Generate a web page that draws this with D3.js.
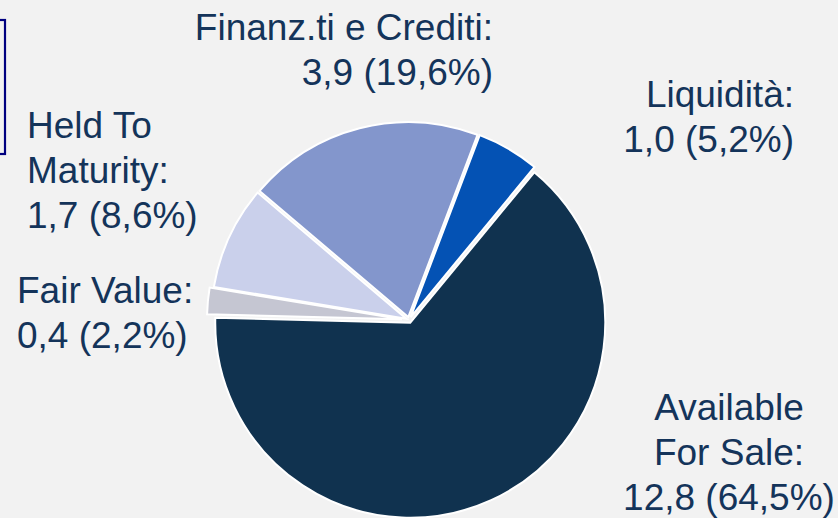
<!DOCTYPE html>
<html><head><meta charset="utf-8">
<script src="https://cdn.jsdelivr.net/npm/d3@7"></script>
<style>html,body{margin:0;padding:0;background:#f2f2f2;overflow:hidden}</style>
</head><body>
<svg id="c" width="838" height="518"></svg>
<script>
const categories = ["Available For Sale", "Fair Value", "Held To Maturity", "Finanz.ti e Crediti", "Liquidità"];
const values = [12.8, 0.4, 1.7, 3.9, 1.0];
const percents = [64.5, 2.2, 8.6, 19.6, 5.2];
const labelLines = [
  ["Available", "For Sale:"],
  ["Fair Value:"],
  ["Held To", "Maturity:"],
  ["Finanz.ti e Crediti:"],
  ["Liquidità:"]
];
const colors = ["#10324f", "#c5c6d2", "#cad0eb", "#8396cc", "#0452b4"];

const svg = d3.select("#c");
svg.append("rect").attr("width", 838).attr("height", 518).attr("fill", "#f2f2f2");
// partial box at left
svg.append("rect").attr("x", -10).attr("y", 20).attr("width", 15).attr("height", 134)
  .attr("fill", "none").attr("stroke", "#000080").attr("stroke-width", 2.2);

const cx = 409, cy = 320, r = 195;
const fmt = v => d3.format(".1f")(v).replace(".", ",");
const startA = 39.5 * Math.PI / 180;
const pie = d3.pie().sort(null).value((d, i) => percents[i])
  .startAngle(startA).endAngle(startA + 2 * Math.PI);
const arcs = pie(values);
const arc = d3.arc().innerRadius(0).outerRadius(r);
const explode = [3, 7, 3, 3, 3];
const g = svg.append("g").attr("transform", `translate(${cx},${cy})`);
g.selectAll("path").data(arcs).join("path")
  .attr("d", arc)
  .attr("fill", (d, i) => colors[i])
  .attr("stroke", "#ffffff").attr("stroke-width", 2)
  .attr("transform", (d, i) => {
    const m = (d.startAngle + d.endAngle) / 2;
    return `translate(${Math.sin(m) * explode[i]},${-Math.cos(m) * explode[i]})`;
  });

// labels
const labelPos = [
  {x: 729, y: 420, anchor: "middle"},
  {x: 17, y: 303, anchor: "start"},
  {x: 27, y: 138, anchor: "start"},
  {x: 493, y: 40, anchor: "end"},
  {x: 794, y: 107, anchor: "end"}
];
const lh = 45;
categories.forEach((c, i) => {
  const lines = labelLines[i].concat([`${fmt(values[i])} (${fmt(percents[i])}%)`]);
  const t = svg.append("text")
    .attr("font-family", "'Liberation Sans', Arial, sans-serif")
    .attr("font-size", 37).attr("fill", "#14345a")
    .attr("text-anchor", labelPos[i].anchor);
  lines.forEach((ln, k) => {
    t.append("tspan").attr("x", labelPos[i].x).attr("y", labelPos[i].y + k * lh).text(ln);
  });
});
</script>
</body></html>
